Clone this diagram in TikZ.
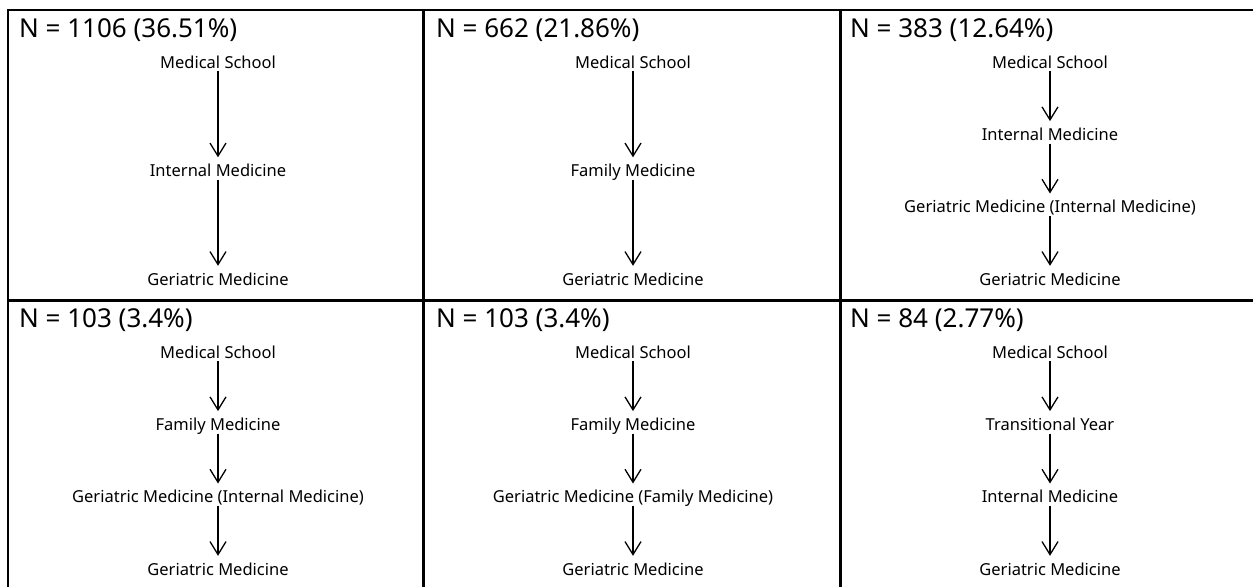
\documentclass[tikz,border=0pt]{standalone}
\usepackage{fontspec}
\setmainfont{Noto Sans}
\usetikzlibrary{arrows.meta}
\begin{document}
\begin{tikzpicture}[x=1pt,y=-1pt,
  lbl/.style={font=\fontsize{16.5}{20}\selectfont, inner sep=0pt, text height=12pt, text depth=4pt},
  ttl/.style={font=\fontsize{26}{30}\selectfont, inner sep=0pt, anchor=base west},
  flow/.style={-{Straight Barb[length=13pt,width=16pt]}, line width=1.3pt, shorten <=-1pt, shorten >=7pt},
  frame/.style={line width=1.5pt},
  divider/.style={line width=3pt}]
\useasboundingbox (0,0) rectangle (1253,587);
\fill[white] (0,0) rectangle (1253,587);
% frame and dividers
\draw[frame] (8,587) -- (8,10) -- (1253,10);
\draw[divider] (8,300) -- (1253,300);
\draw[divider] (423,10) -- (423,587);
\draw[divider] (840,10) -- (840,587);
% panel 1
\begin{scope}[shift={(8,10)}]
  \node[ttl] (t1) at (11,27) {N = 1106 (36.51\%)};
  \node[lbl] (a1) at (210,54) {Medical School};
  \node[lbl] (b1) at (210,162.5) {Internal Medicine};
  \node[lbl] (c1) at (210,271) {Geriatric Medicine};
  \draw[flow] (a1) -- (b1);
  \draw[flow] (b1) -- (c1);
\end{scope}
% panel 2
\begin{scope}[shift={(423,10)}]
  \node[ttl] (t2) at (13,27) {N = 662 (21.86\%)};
  \node[lbl] (a2) at (210,54) {Medical School};
  \node[lbl] (b2) at (210,162.5) {Family Medicine};
  \node[lbl] (c2) at (210,271) {Geriatric Medicine};
  \draw[flow] (a2) -- (b2);
  \draw[flow] (b2) -- (c2);
\end{scope}
% panel 3
\begin{scope}[shift={(840,10)}]
  \node[ttl] (t3) at (10,27) {N = 383 (12.64\%)};
  \node[lbl] (a3) at (210,54) {Medical School};
  \node[lbl] (b3) at (210,126.3) {Internal Medicine};
  \node[lbl] (c3) at (210,198.7) {Geriatric Medicine (Internal Medicine)};
  \node[lbl] (d3) at (210,271) {Geriatric Medicine};
  \draw[flow] (a3) -- (b3);
  \draw[flow] (b3) -- (c3);
  \draw[flow] (c3) -- (d3);
\end{scope}
% panel 4
\begin{scope}[shift={(8,300)}]
  \node[ttl] (t4) at (11,27) {N = 103 (3.4\%)};
  \node[lbl] (a4) at (210,54) {Medical School};
  \node[lbl] (b4) at (210,126.3) {Family Medicine};
  \node[lbl] (c4) at (210,198.7) {Geriatric Medicine (Internal Medicine)};
  \node[lbl] (d4) at (210,271) {Geriatric Medicine};
  \draw[flow] (a4) -- (b4);
  \draw[flow] (b4) -- (c4);
  \draw[flow] (c4) -- (d4);
\end{scope}
% panel 5
\begin{scope}[shift={(423,300)}]
  \node[ttl] (t5) at (13,27) {N = 103 (3.4\%)};
  \node[lbl] (a5) at (210,54) {Medical School};
  \node[lbl] (b5) at (210,126.3) {Family Medicine};
  \node[lbl] (c5) at (210,198.7) {Geriatric Medicine (Family Medicine)};
  \node[lbl] (d5) at (210,271) {Geriatric Medicine};
  \draw[flow] (a5) -- (b5);
  \draw[flow] (b5) -- (c5);
  \draw[flow] (c5) -- (d5);
\end{scope}
% panel 6
\begin{scope}[shift={(840,300)}]
  \node[ttl] (t6) at (10,27) {N = 84 (2.77\%)};
  \node[lbl] (a6) at (210,54) {Medical School};
  \node[lbl] (b6) at (210,126.3) {Transitional Year};
  \node[lbl] (c6) at (210,198.7) {Internal Medicine};
  \node[lbl] (d6) at (210,271) {Geriatric Medicine};
  \draw[flow] (a6) -- (b6);
  \draw[flow] (b6) -- (c6);
  \draw[flow] (c6) -- (d6);
\end{scope}
\end{tikzpicture}
\end{document}
